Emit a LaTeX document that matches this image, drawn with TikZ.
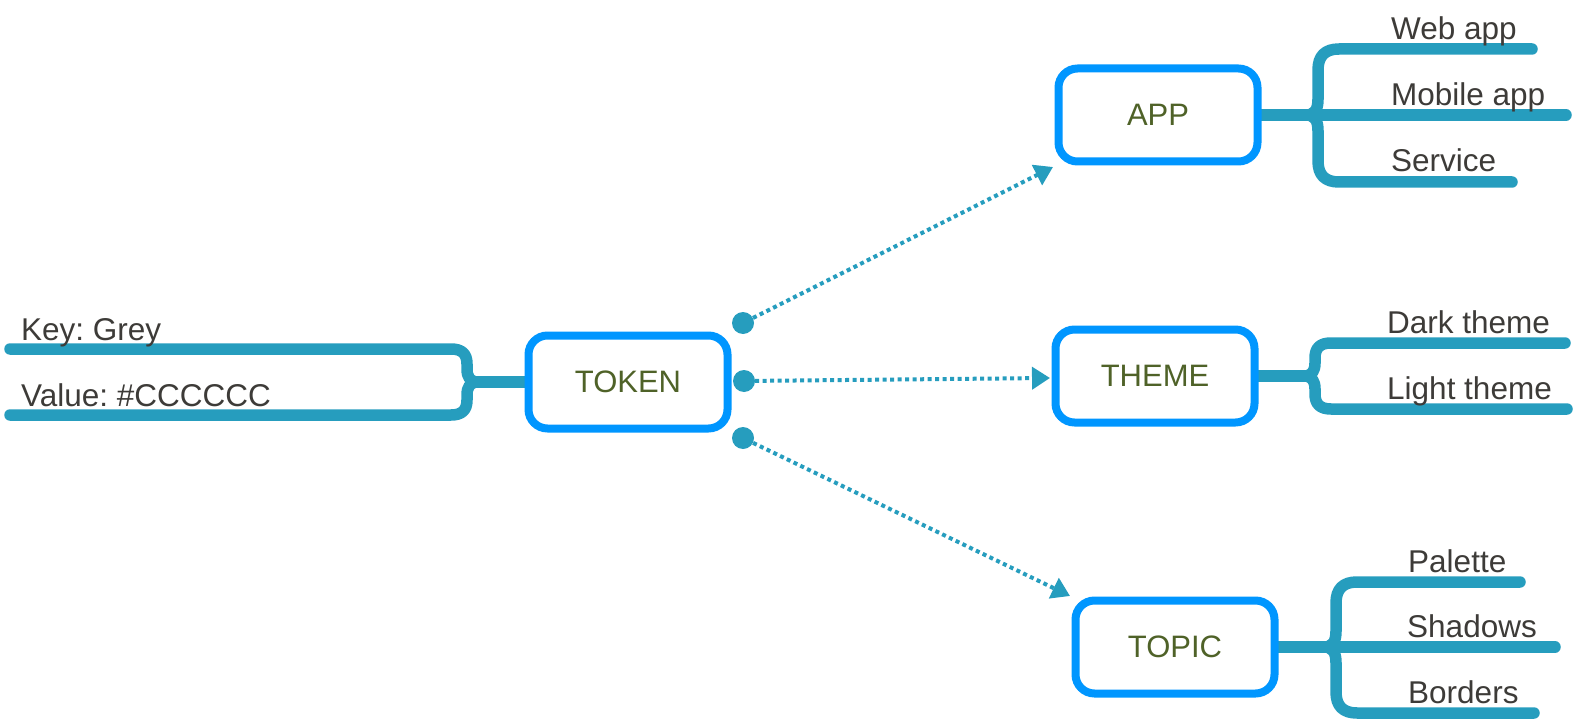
\documentclass[tikz,border=0pt]{standalone}
\usepackage{fontspec}
\setmainfont{Liberation Sans}
\usetikzlibrary{arrows.meta,backgrounds}
\definecolor{boxblue}{RGB}{0,150,255}
\definecolor{tealb}{RGB}{38,157,190}
\definecolor{oliveg}{RGB}{79,98,40}
\definecolor{leafgray}{RGB}{61,59,56}
\frenchspacing
\begin{document}
\begin{tikzpicture}[x=1pt,y=-1pt,
  topicbox/.style={draw=boxblue, line width=8pt, rounded corners=19pt, fill=white,
    minimum width=199pt, minimum height=93pt, text=oliveg, font=\fontsize{31}{37}\selectfont},
  leaf/.style={anchor=base west, text=leafgray, font=\fontsize{31.5}{38}\selectfont, inner sep=0pt},
  branch/.style={draw=tealb, line width=11.5pt, line cap=round, line join=round},
  dotnode/.style={circle, fill=tealb, inner sep=0pt, minimum size=22pt},
  linkline/.style={draw=tealb, line width=4pt, dash pattern=on 4pt off 3.5pt,
    -{Triangle[length=18pt,width=22pt]}}]
\useasboundingbox (0,0) rectangle (1576,722);

% main boxes
\node[topicbox] (token) at (628,382) {TOKEN};
\node[topicbox] (app) at (1158,115) {APP};
\node[topicbox] (theme) at (1155,376) {THEME};
\node[topicbox] (topic) at (1175,647) {TOPIC};

% connector dots
\node[dotnode] (d1) at (743,323) {};
\node[dotnode] (d2) at (744,381) {};
\node[dotnode] (d3) at (743,438) {};
\coordinate (t1) at (1053,167);
\coordinate (t2) at (1050,378);
\coordinate (t3) at (1070,596);
\draw[linkline] (d1) -- (t1);
\draw[linkline] (d2) -- (t2);
\draw[linkline] (d3) -- (t3);

% leaf texts
\node[leaf] (key) at (21,340) {Key: Grey};
\node[leaf] (val) at (21,406) {Value: \#CCCCCC};
\node[leaf] (web) at (1391,40) {Web app};
\node[leaf] (mob) at (1391,106) {Mobile app};
\node[leaf] (srv) at (1391,172) {Service};
\node[leaf] (dark) at (1387,333) {Dark theme};
\node[leaf] (light) at (1387,399) {Light theme};
\node[leaf] (pal) at (1408,572) {Palette};
\node[leaf] (sha) at (1407,637) {Shadows};
\node[leaf] (bor) at (1408,703) {Borders};

% free ends of branch lines
\coordinate (kend) at (10,349);
\coordinate (vend) at (10,415);
\coordinate (webend) at (1532,49);
\coordinate (mobend) at (1566,115);
\coordinate (srvend) at (1512,182);
\coordinate (darkend) at (1565,343);
\coordinate (lightend) at (1567,409);
\coordinate (palend) at (1520,582);
\coordinate (shaend) at (1555,647);
\coordinate (borend) at (1534,713);

\begin{scope}[on background layer]
% token branch (left)
\draw[branch] (token.center) -- (478,382);
\draw[branch] (kend) -- (451,349) .. controls (462,349) and (467,354) .. (467,364) -- (467,369) .. controls (467,377) and (470,382) .. (478,382);
\draw[branch] (vend) -- (451,415) .. controls (462,415) and (467,410) .. (467,400) -- (467,395) .. controls (467,387) and (470,382) .. (478,382);
% app branch
\draw[branch] (app.center) -- (mobend);
\draw[branch] (webend) -- (1339,49) .. controls (1325,49) and (1318,56) .. (1318,70) -- (1318,99) .. controls (1318,109) and (1315,115) .. (1306,115);
\draw[branch] (srvend) -- (1339,182) .. controls (1325,182) and (1318,175) .. (1318,161) -- (1318,131) .. controls (1318,121) and (1315,115) .. (1306,115);
% theme branch
\draw[branch] (theme.center) -- (1304,376);
\draw[branch] (darkend) -- (1331,343) .. controls (1320,343) and (1315,348) .. (1315,358) -- (1315,363) .. controls (1315,371) and (1312,376) .. (1304,376);
\draw[branch] (lightend) -- (1331,409) .. controls (1320,409) and (1315,404) .. (1315,394) -- (1315,389) .. controls (1315,381) and (1312,376) .. (1304,376);
% topic branch
\draw[branch] (topic.center) -- (shaend);
\draw[branch] (palend) -- (1357,582) .. controls (1343,582) and (1336,589) .. (1336,603) -- (1336,631) .. controls (1336,641) and (1333,647) .. (1324,647);
\draw[branch] (borend) -- (1357,713) .. controls (1343,713) and (1336,706) .. (1336,692) -- (1336,663) .. controls (1336,653) and (1333,647) .. (1324,647);
\end{scope}
\end{tikzpicture}
\end{document}
